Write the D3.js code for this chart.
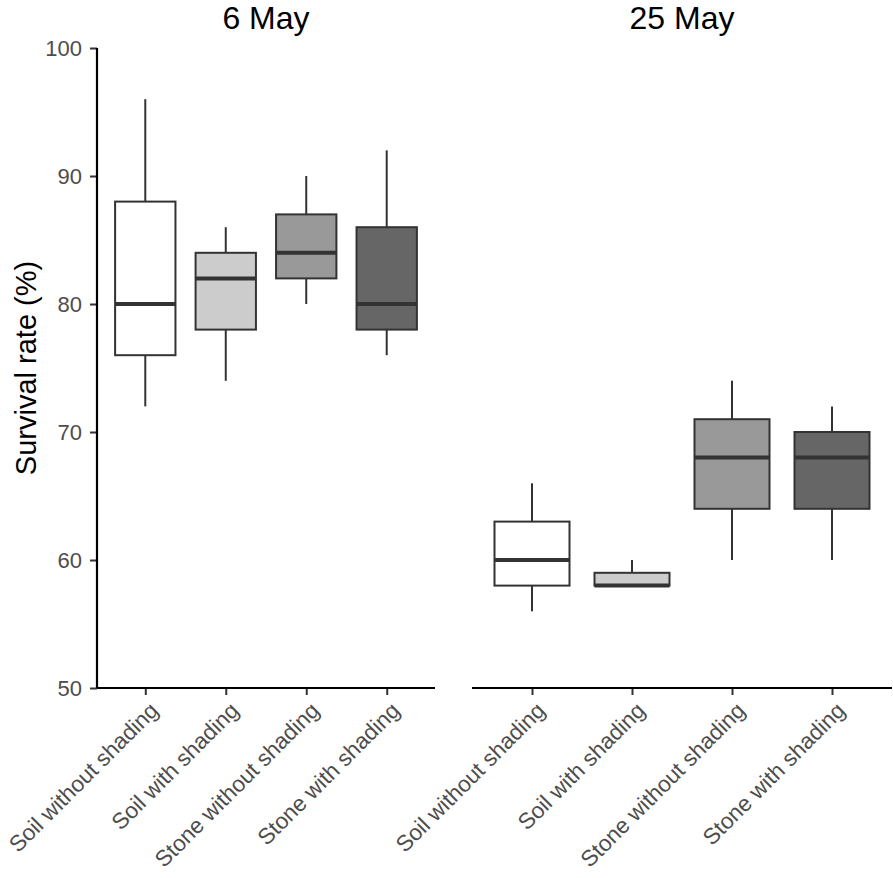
<!DOCTYPE html>
<html>
<head>
<meta charset="utf-8">
<script src="https://cdn.jsdelivr.net/npm/d3@7/dist/d3.min.js"></script>
<style>
  html, body { margin: 0; padding: 0; background: #fff; }
  svg { display: block; font-family: "Liberation Sans", Arial, Helvetica, sans-serif; }
</style>
</head>
<body>
<svg id="chart" width="893" height="878"></svg>
<script>
// ---- data ----
const categories = ["Soil without shading", "Soil with shading", "Stone without shading", "Stone with shading"];
const panelTitles = ["6 May", "25 May"];
const yTicks = [50, 60, 70, 80, 90, 100];

const may6Min    = [72, 74, 80, 76];
const may6Q1     = [76, 78, 82, 78];
const may6Median = [80, 82, 84, 80];
const may6Q3     = [88, 84, 87, 86];
const may6Max    = [96, 86, 90, 92];

const may25Min    = [56, 58, 60, 60];
const may25Q1     = [58, 58, 64, 64];
const may25Median = [60, 58, 68, 68];
const may25Q3     = [63, 59, 71, 70];
const may25Max    = [66, 60, 74, 72];

const fills = ["#ffffff", "#cccccc", "#999999", "#666666"];

function rows(mins, q1s, meds, q3s, maxs) {
  return categories.map((c, i) => ({cat: c, min: mins[i], q1: q1s[i], med: meds[i], q3: q3s[i], max: maxs[i], fill: fills[i]}));
}
const panels = [
  {title: panelTitles[0], data: rows(may6Min, may6Q1, may6Median, may6Q3, may6Max), x0: 97, x1: 435, yAxis: true},
  {title: panelTitles[1], data: rows(may25Min, may25Q1, may25Median, may25Q3, may25Max), x0: 472, x1: 892, yAxis: false}
];

const svg = d3.select("#chart");
const y = d3.scaleLinear().domain([50, 100]).range([688, 48]);
const stroke = "#333333";

panels.forEach(p => {
  const x = d3.scalePoint().domain(categories).range([p.x0, p.x1]).padding(0.6);
  const bw = x.step() * 0.75;
  const g = svg.append("g");

  // title
  g.append("text")
    .attr("x", (p.x0 + p.x1) / 2).attr("y", 29)
    .attr("text-anchor", "middle")
    .attr("font-size", 32).attr("fill", "#000")
    .text(p.title);

  // whiskers and boxes
  const bx = g.selectAll("g.box").data(p.data).join("g").attr("class", "box");
  bx.append("line")
    .attr("x1", d => x(d.cat)).attr("x2", d => x(d.cat))
    .attr("y1", d => y(d.max)).attr("y2", d => y(d.q3))
    .attr("stroke", stroke).attr("stroke-width", 2);
  bx.append("line")
    .attr("x1", d => x(d.cat)).attr("x2", d => x(d.cat))
    .attr("y1", d => y(d.q1)).attr("y2", d => y(d.min))
    .attr("stroke", stroke).attr("stroke-width", 2);
  bx.append("rect")
    .attr("x", d => x(d.cat) - bw / 2).attr("width", bw)
    .attr("y", d => y(d.q3)).attr("height", d => Math.max(0, y(d.q1) - y(d.q3)))
    .attr("fill", d => d.fill).attr("stroke", stroke).attr("stroke-width", 2);
  bx.append("line")
    .attr("x1", d => x(d.cat) - bw / 2).attr("x2", d => x(d.cat) + bw / 2)
    .attr("y1", d => y(d.med)).attr("y2", d => y(d.med))
    .attr("stroke", stroke).attr("stroke-width", 4);

  // x axis
  const xa = g.append("g").attr("transform", "translate(0,688)")
    .call(d3.axisBottom(x).tickSize(7).tickSizeOuter(0).tickPadding(4));
  xa.select(".domain").remove();
  xa.selectAll(".tick line").attr("stroke", stroke).attr("stroke-width", 2);
  xa.selectAll(".tick text")
    .attr("font-size", 22.5).attr("fill", "#4d4d4d")
    .attr("text-anchor", "end")
    .attr("x", 0).attr("y", 0).attr("dy", "0.75em")
    .attr("transform", "translate(2,12) rotate(-45)");
  g.append("line")
    .attr("x1", p.x0).attr("x2", p.x1).attr("y1", y(50)).attr("y2", y(50))
    .attr("stroke", "#000").attr("stroke-width", 2.2);

  if (p.yAxis) {
    const ya = g.append("g").attr("transform", `translate(${p.x0},0)`)
      .call(d3.axisLeft(y).tickValues(yTicks).tickSize(7).tickSizeOuter(0).tickPadding(8));
    ya.select(".domain").remove();
    ya.selectAll(".tick line").attr("stroke", stroke).attr("stroke-width", 2);
    ya.selectAll(".tick text").attr("font-size", 22).attr("fill", "#4d4d4d");
    g.append("line")
      .attr("x1", p.x0).attr("x2", p.x0).attr("y1", y(100)).attr("y2", y(50))
      .attr("stroke", "#000").attr("stroke-width", 2.2);
  }
});

// y axis title
svg.append("text")
  .attr("transform", `translate(36,${(y(50) + y(100)) / 2}) rotate(-90)`)
  .attr("text-anchor", "middle")
  .attr("font-size", 29).attr("fill", "#000")
  .text("Survival rate (%)");
</script>
</body>
</html>
